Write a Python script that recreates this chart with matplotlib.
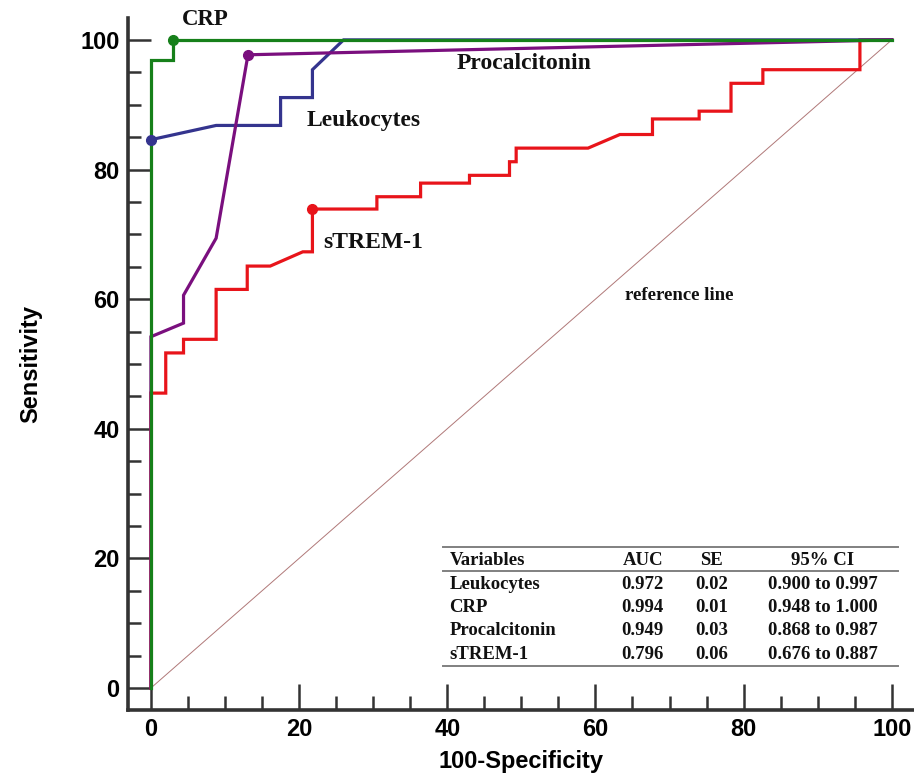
import matplotlib
matplotlib.use('Agg')
import matplotlib.pyplot as plt
from matplotlib.ticker import MultipleLocator

# ROC curve points (100-Specificity, Sensitivity)
crp_x = [0, 0, 3.0, 3.0, 100]
crp_y = [0, 96.9, 96.9, 100, 100]

pct_x = [0, 0, 4.4, 4.4, 8.8, 13.1, 100]
pct_y = [0, 54.2, 56.3, 60.6, 69.4, 97.7, 100]

leu_x = [0, 8.8, 17.5, 17.5, 21.8, 21.8, 26.0, 100]
leu_y = [84.6, 86.8, 86.8, 91.1, 91.1, 95.4, 100, 100]

strem_x = [0, 0, 2.0, 2.0, 4.4, 4.4, 8.8, 8.8, 13.0, 13.0, 16.1, 20.5, 21.8, 21.8,
           30.5, 30.5, 36.4, 36.4, 43.0, 43.0, 48.4, 48.4, 49.3, 49.3, 59.0, 63.3,
           67.7, 67.7, 74.0, 74.0, 78.3, 78.3, 82.6, 82.6, 95.7, 95.7, 100]
strem_y = [0, 45.5, 45.5, 51.7, 51.7, 53.8, 53.8, 61.5, 61.5, 65.1, 65.1, 67.3, 67.3, 73.9,
           73.9, 75.8, 75.8, 77.9, 77.9, 79.1, 79.1, 81.2, 81.2, 83.3, 83.3, 85.4,
           85.4, 87.8, 87.8, 89.0, 89.0, 93.3, 93.3, 95.4, 95.4, 100, 100]

# optimal cut-off dots
crp_dot = (3.0, 100)
pct_dot = (13.1, 97.7)
leu_dot = (0, 84.6)
strem_dot = (21.8, 73.9)

tbl_header = ['Variables', 'AUC', 'SE', '95% CI']
tbl_names = ['Leukocytes', 'CRP', 'Procalcitonin', 'sTREM-1']
tbl_auc = ['0.972', '0.994', '0.949', '0.796']
tbl_se = ['0.02', '0.01', '0.03', '0.06']
tbl_ci = ['0.900 to 0.997', '0.948 to 1.000', '0.868 to 0.987', '0.676 to 0.887']

green = '#16801a'
purple = '#7a0f7e'
blue = '#34348e'
red = '#e8141a'

fig = plt.figure(figsize=(9.14, 7.76), dpi=100)
ax = fig.add_axes([0.140, 0.085, 0.86, 0.892])

ax.plot([0, 100], [0, 100], color='#b07878', lw=0.7)
ax.plot(strem_x, strem_y, color=red, lw=2.3, solid_joinstyle='miter')
ax.plot(leu_x, leu_y, color=blue, lw=2.3, solid_joinstyle='miter')
ax.plot(pct_x, pct_y, color=purple, lw=2.3, solid_joinstyle='miter')
ax.plot(crp_x, crp_y, color=green, lw=2.3, solid_joinstyle='miter')

ax.plot(*crp_dot, 'o', color=green, ms=7, clip_on=False)
ax.plot(*pct_dot, 'o', color=purple, ms=7)
ax.plot(*leu_dot, 'o', color=blue, ms=7, clip_on=False)
ax.plot(*strem_dot, 'o', color=red, ms=7)

lbl = dict(family='Liberation Serif', weight='bold', color='#111111')
ax.text(4.2, 103.2, 'CRP', fontsize=16.5, ha='left', va='center', **lbl)
ax.text(41.2, 96.3, 'Procalcitonin', fontsize=17, ha='left', va='center', **lbl)
ax.text(21.0, 87.6, 'Leukocytes', fontsize=17, ha='left', va='center', **lbl)
ax.text(23.3, 68.7, 'sTREM-1', fontsize=17, ha='left', va='center', **lbl)
ax.text(64.0, 60.5, 'reference line', fontsize=13.5, ha='left', va='center', **lbl)

# AUC table
tx0, tx1 = 39.4, 100.8
for yl in [21.8, 18.1, 3.4]:
    ax.plot([tx0, tx1], [yl, yl], color='#808080', lw=1.4, clip_on=False)
row_y = [19.6, 16.0, 12.4, 8.8, 5.1]
tbl = dict(family='Liberation Serif', weight='bold', fontsize=13.5, va='center', color='#111111')
ax.text(40.3, row_y[0], tbl_header[0], ha='left', **tbl)
ax.text(66.4, row_y[0], tbl_header[1], ha='center', **tbl)
ax.text(75.7, row_y[0], tbl_header[2], ha='center', **tbl)
ax.text(90.7, row_y[0], tbl_header[3], ha='center', **tbl)
for i in range(len(tbl_names)):
    yy = row_y[i + 1]
    ax.text(40.3, yy, tbl_names[i], ha='left', **tbl)
    ax.text(66.4, yy, tbl_auc[i], ha='center', **tbl)
    ax.text(75.7, yy, tbl_se[i], ha='center', **tbl)
    ax.text(90.7, yy, tbl_ci[i], ha='center', clip_on=False, **tbl)

ax.set_xlim(-3.1, 103)
ax.set_ylim(-3.4, 103.4)
for s in ['top', 'right']:
    ax.spines[s].set_visible(False)
for s in ['left', 'bottom']:
    ax.spines[s].set_linewidth(2.6)
    ax.spines[s].set_color('#333333')

ax.xaxis.set_major_locator(MultipleLocator(20))
ax.xaxis.set_minor_locator(MultipleLocator(5))
ax.yaxis.set_major_locator(MultipleLocator(20))
ax.yaxis.set_minor_locator(MultipleLocator(5))
ax.tick_params(which='both', direction='in', color='#333333', width=1.8)
ax.tick_params(axis='y', which='major', length=16.5)
ax.tick_params(axis='y', which='minor', length=9)
ax.tick_params(axis='x', which='major', length=19)
ax.tick_params(axis='x', which='minor', length=10)
ax.tick_params(axis='both', which='major', pad=6)

tick_font = ['Liberation Sans', 'DejaVu Sans']
for t in ax.get_xticklabels() + ax.get_yticklabels():
    t.set_fontfamily(tick_font)
    t.set_fontweight('bold')
    t.set_fontsize(17)

ax.set_xlabel('100-Specificity', fontsize=17, fontweight='bold', family=tick_font, labelpad=6)
ax.set_ylabel('Sensitivity', fontsize=17, fontweight='bold', family=tick_font, labelpad=27)

fig.savefig('out.png', dpi=100)
